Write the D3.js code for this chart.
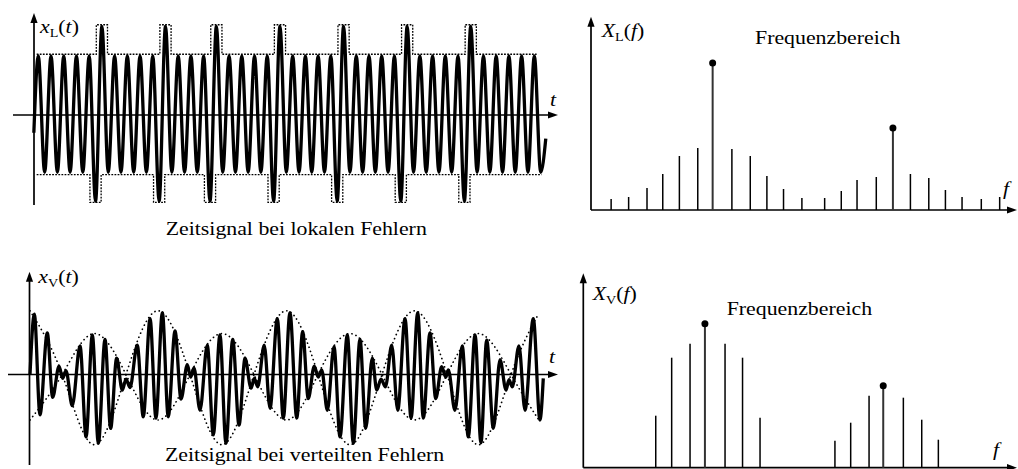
<!DOCTYPE html>
<html>
<head>
<meta charset="utf-8">
<script src="https://cdn.jsdelivr.net/npm/d3@7"></script>
<style>
  body { margin: 0; background: #fff; }
  svg { display: block; }
  text { font-family: "Liberation Serif", "Times New Roman", serif; fill: #000; }
</style>
</head>
<body>
<svg id="chart" width="1018" height="469"></svg>
<script>
// ---------- data ----------

// x_L(t): carrier extrema, one value per half period (peak, trough, peak, ...)
// the local faults show up as a larger trough/peak pair
var lokalAmp = [
    1, -0.97, 1, -0.97, 1, -0.97, 1, -0.97, 1, -1.46,
    1.5, -0.97, 1, -0.97, 1, -0.97, 1, -0.97, 1, -1.46,
    1.5, -0.97, 1, -0.97, 1, -0.97, 1, -1.46, 1.5, -0.97,
    1, -0.97, 1, -0.97, 1, -0.97, 1, -1.46, 1.5, -0.97,
    1, -0.97, 1, -0.97, 1, -0.97, 1, -1.46, 1.5, -0.97,
    1, -0.97, 1, -0.97, 1, -0.97, 1, -1.46, 1.5, -0.97,
    1, -0.97, 1, -0.97, 1, -0.97, 1, -1.46, 1.5, -0.97,
    1, -0.97, 1, -0.97, 1, -0.97, 1, -0.97, 1, -0.97
];
var lokalStart = [-0.35, -0.3];   // [t, value] where the trace begins
var lokalEnd = [39.9, -0.4];      // [t, value] where the trace ends
var lokalEnvNormal = [1.03, -1.01];
var lokalEnvPulse = [1.53, -1.48];

// x_V(t): extrema of the modulated signal (time in carrier periods, amplitude)
var verteiltT = [
    0, 0.34, 0.78, 1.35, 1.77, 2.27, 2.55, 2.81, 3.30, 3.91,
    4.38, 4.87, 5.34, 5.86, 6.30, 6.77, 7.21, 7.50, 7.81, 8.38,
    8.85, 9.38, 9.84, 10.34, 10.80, 11.33, 11.80, 12.29, 12.55, 12.81,
    13.28, 13.85, 14.32, 14.84, 15.31, 15.84, 16.33, 16.80, 17.27, 17.52,
    17.79, 18.30, 18.75, 19.32, 19.79, 20.31, 20.84, 21.30, 21.74, 22.21,
    22.52, 22.79, 23.23, 23.75, 24.22, 24.79, 25.26, 25.78, 26.23, 26.74,
    27.09, 27.42, 27.77, 28.26, 28.73, 29.30, 29.77, 30.29, 30.73, 31.25,
    31.70, 32.16, 32.48, 32.68, 33.20, 33.77, 34.24, 34.77, 35.23, 35.68,
    36.20, 36.72, 37.19, 37.42, 37.68, 38.20, 38.67, 39.32, 39.84, 40.10
];
var verteiltV = [
    0, 0.93, -0.62, 0.64, -0.35, 0.13, -0.06, 0.06, -0.48, 0.44,
    -0.96, 0.61, -1.06, 0.54, -0.83, 0.25, -0.24, -0.07, -0.20, 0.45,
    -0.65, 0.86, -0.67, 0.95, -0.65, 0.67, -0.38, 0.15, -0.04, 0.10,
    -0.55, 0.45, -0.93, 0.61, -1.06, 0.54, -0.78, 0.25, -0.21, -0.06,
    -0.19, 0.45, -0.52, 0.86, -0.67, 0.95, -0.67, 0.66, -0.37, 0.13,
    -0.04, 0.07, -0.55, 0.43, -0.96, 0.61, -1.06, 0.54, -0.83, 0.25,
    -0.24, -0.07, -0.19, 0.45, -0.55, 0.86, -0.67, 0.95, -0.67, 0.64,
    -0.37, 0.12, -0.04, 0.07, -0.55, 0.44, -0.96, 0.61, -1.05, 0.53,
    -0.83, 0.23, -0.24, -0.08, -0.19, 0.44, -0.55, 0.86, -0.70, -0.06
];
// dotted envelope curves of x_V(t)
var envT = [0, 2.52, 4.98, 7.5, 10.0, 12.5, 15.0, 17.5, 20.04, 22.5, 25.0, 27.5, 30.04, 32.58, 35.08, 37.58, 39.75];
var envUpper = [0.98, 0, -1.08, 0, 0.98, 0, -1.08, 0, 0.98, 0, -1.08, 0, 0.98, 0, -1.08, 0, 0.94];
var envLower = [-0.70, 0, 0.63, 0, -0.70, 0, 0.63, 0, -0.70, 0, 0.63, 0, -0.70, 0, 0.63, 0, -0.70];

// X_L(f): spectral lines
var specLFreq = [1.15, 2.15, 3.2, 4.1, 5.05, 6.1, 6.95, 8.05, 9.1, 10.05, 11.0, 12.05,
                 13.35, 14.3, 15.2, 16.3, 17.25, 18.25, 19.3, 20.25, 21.2, 22.3, 23.35];
var specLAmp = [11, 13, 22, 36, 54, 62, 147, 61, 54, 34, 21, 12,
                12, 19, 30, 33, 82, 36, 32, 20, 13, 11, 13];
var specLMain = [6.95, 17.25];

// X_V(f): spectral lines
var specVFreq = [4.14, 5.05, 6.1, 6.95, 8.1, 9.1, 10.1, 14.38, 15.28, 16.33, 17.14, 18.29, 19.34, 20.29];
var specVAmp = [52, 110, 124, 144, 124, 110, 50, 27, 45, 72, 82, 70, 48, 28];
var specVMain = [6.95, 17.14];

// ---------- drawing ----------
var svg = d3.select("#chart");
svg.append("rect").attr("width", 1018).attr("height", 469).attr("fill", "#fff");

var fontSize = 18.5;
var stretch = 1.18; // the original lettering is a bit wider than Times

// axis line with a filled arrow head at (x2, y2)
function arrowLine(x1, y1, x2, y2) {
    var dx = x2 - x1, dy = y2 - y1, len = Math.hypot(dx, dy);
    var ux = dx / len, uy = dy / len, head = 10, half = 3.6;
    svg.append("line")
        .attr("x1", x1).attr("y1", y1)
        .attr("x2", x2 - ux * head * 0.7).attr("y2", y2 - uy * head * 0.7)
        .attr("stroke", "#000").attr("stroke-width", 1.7);
    var bx = x2 - ux * head, by = y2 - uy * head;
    svg.append("path")
        .attr("d", "M" + x2 + "," + y2 + "L" + (bx - uy * half) + "," + (by + ux * half) +
                   "L" + (bx + uy * half) + "," + (by - ux * half) + "Z")
        .attr("fill", "#000");
}

function plainText(x, y, str, italic) {
    svg.append("text")
        .attr("transform", "translate(" + x + "," + y + ") scale(" + stretch + ",1)")
        .style("font-size", fontSize + "px")
        .style("font-style", italic ? "italic" : "normal")
        .text(str);
}

// function label like x_L(t)
function funcLabel(x, y, name, sub, arg) {
    var t = svg.append("text")
        .attr("transform", "translate(" + x + "," + y + ") scale(" + stretch + ",1)")
        .style("font-size", fontSize + "px");
    t.append("tspan").style("font-style", "italic").text(name);
    t.append("tspan").style("font-size", "12px").attr("dy", 4).text(sub);
    t.append("tspan").attr("dy", -4).text("(");
    t.append("tspan").style("font-style", "italic").text(arg);
    t.append("tspan").text(")");
}

// ---- top left: time signal with local faults ----
var xL = d3.scaleLinear().domain([0, 39.5]).range([38.3, 540.7]);
var yL = d3.scaleLinear().domain([-1, 1]).range([174, 56]);

arrowLine(34, 205, 34, 13);
arrowLine(13, yL(0), 558, yL(0));

// stepped dotted envelope around the pulses
var envW = 0.44;
var pulsePeaks = [], pulseTroughs = [];
lokalAmp.forEach(function(a, i) {
    if (a > 1.2) pulsePeaks.push(i / 2);
    if (a < -1.2) pulseTroughs.push(i / 2);
});
function stepEnv(pulses, normal, pulse, t0, t1) {
    var pts = [[t0, normal]];
    pulses.forEach(function(p) {
        pts.push([p - envW, normal], [p - envW, pulse], [p + envW, pulse], [p + envW, normal]);
    });
    pts.push([t1, normal]);
    return pts;
}
var stepLine = d3.line().x(function(d) { return xL(d[0]); }).y(function(d) { return yL(d[1]); });
[stepEnv(pulsePeaks, lokalEnvNormal[0], lokalEnvPulse[0], -0.13, 39.18),
 stepEnv(pulseTroughs, lokalEnvNormal[1], lokalEnvPulse[1], -0.13, 39.57)].forEach(function(pts) {
    svg.append("path")
        .attr("d", stepLine(pts))
        .attr("fill", "none")
        .attr("stroke", "#000")
        .attr("stroke-width", 1.3)
        .attr("stroke-dasharray", "1.8,1.3");
});

var lokalPts = [lokalStart].concat(lokalAmp.map(function(a, i) { return [i / 2, a]; }), [lokalEnd]);
svg.append("path")
    .attr("d", d3.line()
        .x(function(d) { return xL(d[0]); })
        .y(function(d) { return yL(d[1]); })
        .curve(d3.curveMonotoneX)(lokalPts))
    .attr("fill", "none")
    .attr("stroke", "#000")
    .attr("stroke-width", 3.3)
    .attr("stroke-linejoin", "round");

funcLabel(40, 33.3, "x", "L", "t");
plainText(550, 106, "t", true);
plainText(165.7, 235, "Zeitsignal bei lokalen Fehlern", false);

// ---- bottom left: time signal with distributed faults ----
var xV = d3.scaleLinear().domain([0, 40]).range([30, 542]);
var yV = d3.scaleLinear().domain([-1, 1]).range([439.5, 309.5]);

arrowLine(29.5, 465, 29.5, 271.7);
arrowLine(8, yV(0), 558, yV(0));

[envUpper, envLower].forEach(function(env) {
    svg.append("path")
        .attr("d", d3.line()
            .x(function(d, i) { return xV(envT[i]); })
            .y(function(d) { return yV(d); })
            .curve(d3.curveNatural)(env))
        .attr("fill", "none")
        .attr("stroke", "#000")
        .attr("stroke-width", 1.7)
        .attr("stroke-linecap", "round")
        .attr("stroke-dasharray", "0.1,4.3");
});

svg.append("path")
    .attr("d", d3.line()
        .x(function(d, i) { return xV(verteiltT[i]); })
        .y(function(d) { return yV(d); })
        .curve(d3.curveMonotoneX)(verteiltV))
    .attr("fill", "none")
    .attr("stroke", "#000")
    .attr("stroke-width", 3.3)
    .attr("stroke-linejoin", "round");

funcLabel(38.3, 283.3, "x", "V", "t");
plainText(549, 363, "t", true);
plainText(165, 460.7, "Zeitsignal bei verteilten Fehlern", false);

// ---- spectra ----
function stems(freqs, amps, mains, xs, ys) {
    freqs.forEach(function(f, i) {
        var main = mains.indexOf(f) >= 0;
        svg.append("line")
            .attr("x1", xs(f)).attr("x2", xs(f))
            .attr("y1", ys(0)).attr("y2", ys(amps[i]))
            .attr("stroke", main ? "#333" : "#000")
            .attr("stroke-width", main ? 2 : 1.5);
        if (main) {
            svg.append("circle")
                .attr("cx", xs(f)).attr("cy", ys(amps[i]))
                .attr("r", 3.5)
                .attr("fill", "#000");
        }
    });
}

var xFL = d3.scaleLinear().domain([0, 24.3]).range([591, 1016.3]);
var yFL = d3.scaleLinear().domain([0, 150]).range([210, 60]);
arrowLine(591, 210, 591, 16.7);
arrowLine(591, 210, 1017, 210);
stems(specLFreq, specLAmp, specLMain, xFL, yFL);
funcLabel(601.7, 37.3, "X", "L", "f");
plainText(755, 44, "Frequenzbereich", false);
plainText(1003, 195, "f", true);

var xFV = d3.scaleLinear().domain([0, 24.75]).range([583.3, 1016.4]);
var yFV = d3.scaleLinear().domain([0, 150]).range([467.7, 317.7]);
arrowLine(583.3, 467.7, 583.3, 273.3);
arrowLine(583.3, 467.7, 1017, 467.7);
stems(specVFreq, specVAmp, specVMain, xFV, yFV);
funcLabel(592.7, 300, "X", "V", "f");
plainText(726.7, 315, "Frequenzbereich", false);
plainText(993, 456, "f", true);
</script>
</body>
</html>
